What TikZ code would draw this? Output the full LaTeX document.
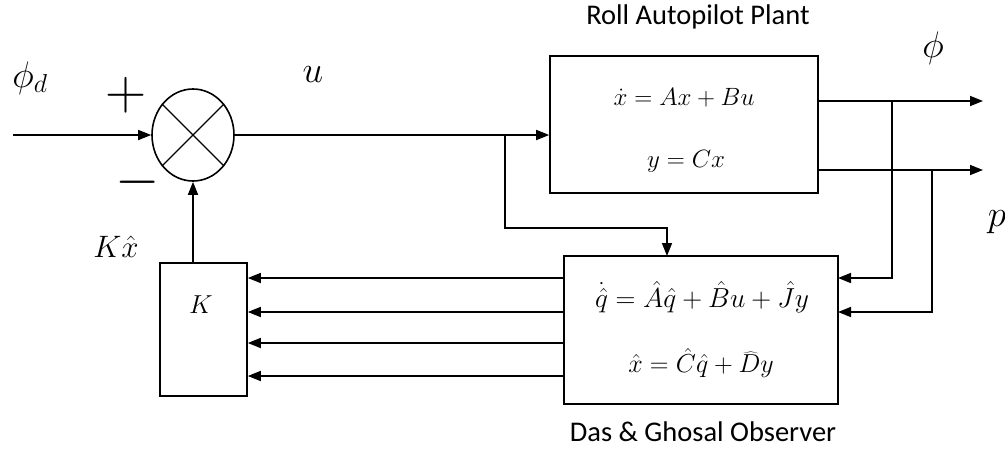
\RequirePackage{fix-cm}
\documentclass[tikz,border=0pt]{standalone}
\usepackage{fontspec}
\newfontfamily\capfont{Carlito}
\usetikzlibrary{arrows.meta,shapes.geometric}
\tikzset{
  arr/.style={-{Triangle[length=13pt,width=10pt]}},
  blk/.style={draw, rectangle, inner sep=0pt},
  eq/.style={font=\fontsize{25}{29}\selectfont, inner sep=0pt},
  eqo/.style={font=\fontsize{26}{30}\selectfont, inner sep=0pt},
  lab/.style={font=\fontsize{37}{42}\selectfont, inner sep=0pt},
  captext/.style={font=\capfont\fontsize{28.5}{32}\selectfont, inner sep=0pt},
  sign/.style={font=\fontsize{57}{60}\selectfont, inner sep=0pt},
}
\begin{document}
\begin{tikzpicture}[x=1pt,y=-1pt,line width=1.6pt]
\useasboundingbox (0,0) rectangle (1005,448);
% blocks
\node[draw, ellipse, minimum width=82pt, minimum height=92pt, inner sep=0pt] (sum) at (193,135) {};
\draw[line width=1.2pt] (sum.45) -- (sum.225) (sum.135) -- (sum.315);
\node[blk, minimum width=268pt, minimum height=137pt] (plant) at (684,124.5) {};
\node[blk, minimum width=274pt, minimum height=148pt] (obs) at (701,330) {};
\node[blk, minimum width=87pt, minimum height=133pt] (kbox) at (203.5,329.5) {};
% texts
\node[eq] (pe1) at (684,98) {$\dot{x} = Ax + Bu$};
\node[eq] (pe2) at (686,161) {$y = Cx$};
\node[eqo, font=\fontsize{27.5}{31}\selectfont] (oe1) at (702,297) {$\dot{\hat{q}} = \hat{A}\hat{q} + \hat{B}u + \hat{J}y$};
\node[eqo] (oe2) at (701,363) {$\hat{x} = \hat{C}\hat{q} + \widehat{D}y$};
\node[eqo] (kl) at (201,305) {$K$};
\node[captext] (t1) at (698,17) {Roll Autopilot Plant};
\node[captext] (t2) at (703,432) {Das \& Ghosal Observer};
\node[lab] (phid) at (30,78) {$\phi_d$};
\node[lab] (ul) at (313,75) {$u$};
\node[lab] (phil) at (933,48) {$\phi$};
\node[lab, anchor=west] (pl) at (987,222) {$p$};
\node[font=\fontsize{31}{36}\selectfont, inner sep=0pt] (kx) at (116,247) {$K\hat{x}$};
\node[sign] (plus) at (126,95) {$+$};
\node[sign] (minus) at (138,182) {$-$};
% connectors
\coordinate (in) at (13,135);
\draw[arr] (in) -- (sum.west);
\draw[arr] (sum.east) -- (sum.east -| plant.west);
\coordinate (br) at (505,135);
\coordinate (oin) at (667,256);
\draw[arr] (br) |- (0,228 -| oin) -| (oin);
\draw[arr] (sum.south |- kbox.north) -- (sum.south);
\coordinate (y1) at (983,101);
\coordinate (y2) at (983,170);
\draw[arr] (y1 -| plant.east) -- (y1);
\draw[arr] (y2 -| plant.east) -- (y2);
\coordinate (b1) at (892,101);
\coordinate (b2) at (932,170);
\coordinate (o1) at (838,278);
\coordinate (o2) at (838,312);
\draw[arr] (b1) |- (o1);
\draw[arr] (b2) |- (o2);
\foreach \yy in {278,312,343,376}
  \draw[arr] (obs.west |- 0,\yy) -- (kbox.east |- 0,\yy);
\end{tikzpicture}
\end{document}
